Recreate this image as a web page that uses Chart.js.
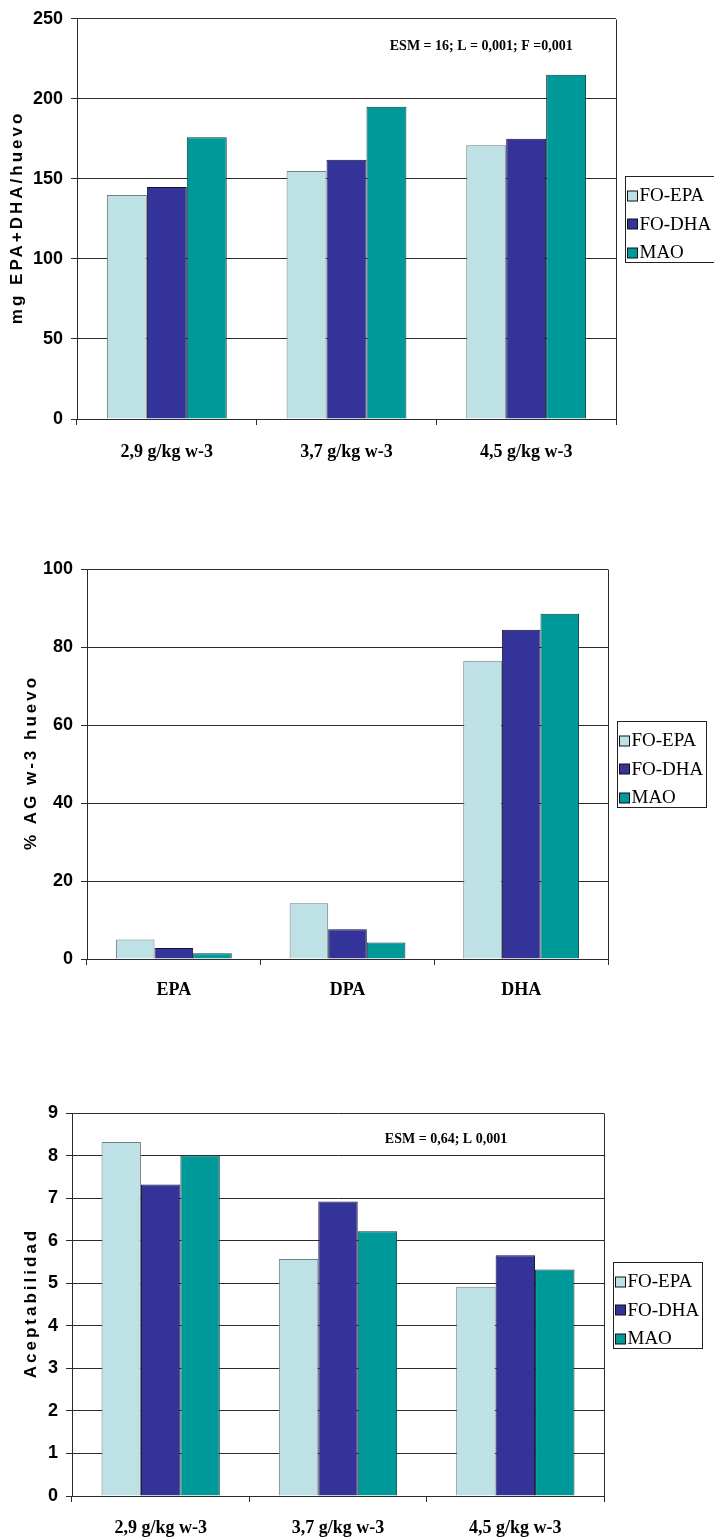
<!DOCTYPE html>
<html>
<head>
<meta charset="utf-8">
<script src="https://cdn.jsdelivr.net/npm/chart.js@4.4.1/dist/chart.umd.min.js"></script>
<style>
  html, body { margin: 0; padding: 0; background: #fff; }
  body { width: 714px; height: 1539px; position: relative; overflow: hidden; }
  .panel { position: absolute; left: 0; width: 714px; }
</style>
</head>
<body>
<div class="panel" style="top:0;height:500px"><canvas id="chartContent"></canvas></div>
<div class="panel" style="top:500px;height:540px"><canvas id="chartProfile"></canvas></div>
<div class="panel" style="top:1040px;height:499px"><canvas id="chartAccept"></canvas></div>

<script>
// Categories and series
const doseLabels = ['2,9 g/kg w-3', '3,7 g/kg w-3', '4,5 g/kg w-3'];
const acidLabels = ['EPA', 'DPA', 'DHA'];
const seriesNames = ['FO-EPA', 'FO-DHA', 'MAO'];

// mg EPA+DHA per egg
const eggFoEpa = [140, 155, 171];
const eggFoDha = [145, 162, 175];
const eggMao   = [176, 195, 215];

// % of each fatty acid within egg w-3
const pctFoEpa = [5.0, 14.3, 76.5];
const pctFoDha = [2.8, 7.6, 84.4];
const pctMao   = [1.5, 4.2, 88.5];

// sensory acceptability score
const accFoEpa = [8.32, 5.57, 4.92];
const accFoDha = [7.32, 6.92, 5.66];
const accMao   = [8.0, 6.22, 5.32];

// value axis ticks
const ticksContent = [0, 50, 100, 150, 200, 250];
const ticksProfile = [0, 20, 40, 60, 80, 100];
const ticksAccept  = [0, 1, 2, 3, 4, 5, 6, 7, 8, 9];

// axis titles and statistics notes
const titleContent = 'mg EPA+DHA/huevo';
const titleProfile = '% AG w-3 huevo';
const titleAccept  = 'Aceptabilidad';
const noteContent  = 'ESM = 16; L = 0,001; F =0,001';
const noteAccept   = 'ESM = 0,64; L 0,001';

// styling
const fillColors   = ['#BDE1E4', '#333399', '#009999'];
const borderColors = ['#6E7F80', '#111133', '#103838'];
const LINE = '#2b2b2b';
const SANS_NARROW = "'Liberation Sans Narrow','Arial Narrow','Liberation Sans',Arial,sans-serif";
const SANS = "'Liberation Sans',Arial,sans-serif";
const SERIF = "'Liberation Serif','Times New Roman',serif";

// frame, y title, legend box and note
const decorPlugin = {
  id: 'decor',
  afterDraw(chart, args, opts) {
    const { ctx, chartArea: a } = chart;
    ctx.save();
    // right side of the plot frame
    ctx.strokeStyle = LINE;
    ctx.lineWidth = 1;
    const rx = Math.round(a.right) + 0.5;
    ctx.beginPath();
    ctx.moveTo(rx, Math.round(a.top) + 0.5);
    ctx.lineTo(rx, Math.round(a.bottom) + 0.5);
    ctx.stroke();

    // rotated value-axis title
    ctx.save();
    ctx.translate(opts.titleX, (a.top + a.bottom) / 2);
    ctx.rotate(-Math.PI / 2);
    ctx.font = 'bold 17px ' + SANS;
    ctx.letterSpacing = '3px';
    ctx.fillStyle = '#000';
    ctx.textAlign = 'center';
    ctx.textBaseline = 'middle';
    ctx.fillText(opts.title, 1.5, 0);
    ctx.restore();

    // legend box
    const lx = Math.round(a.right + 9) + 0.5;
    const lw = 89, lh = 86;
    const ly = Math.round((a.top + a.bottom) / 2 - lh / 2) + 0.5;
    ctx.fillStyle = '#fff';
    ctx.fillRect(lx, ly, lw, lh);
    ctx.strokeStyle = '#222';
    ctx.strokeRect(lx, ly, lw, lh);
    ctx.font = '19px ' + SERIF;
    ctx.textAlign = 'left';
    ctx.textBaseline = 'middle';
    chart.data.datasets.forEach((ds, i) => {
      const cy = ly + 19 + i * 28.5;
      ctx.fillStyle = ds.backgroundColor;
      ctx.fillRect(lx + 2, Math.round(cy - 5), 10, 10);
      ctx.strokeStyle = '#111';
      ctx.strokeRect(lx + 2, Math.round(cy - 5), 10, 10);
      ctx.fillStyle = '#000';
      ctx.fillText(ds.label, lx + 14, cy + 1);
    });

    // statistics note
    if (opts.note) {
      ctx.font = 'bold 14px ' + SERIF;
      ctx.fillStyle = '#000';
      ctx.textAlign = 'center';
      ctx.textBaseline = 'middle';
      const nx = a.left + (a.right - a.left) * opts.noteXFrac;
      const ny = chart.scales.y.getPixelForValue(opts.noteY);
      ctx.fillText(opts.note, nx, ny);
    }
    ctx.restore();
  }
};

function buildChart(id, spec) {
  const el = document.getElementById(id);
  const h = el.parentNode.clientHeight;
  return new Chart(el, {
    type: 'bar',
    data: {
      labels: spec.categories,
      datasets: spec.series.map((vals, i) => ({
        label: seriesNames[i],
        data: vals,
        backgroundColor: fillColors[i],
        borderColor: borderColors[i],
        borderWidth: 1,
        borderSkipped: 'bottom',
        categoryPercentage: 0.667,
        barPercentage: 1
      }))
    },
    options: {
      responsive: true,
      maintainAspectRatio: false,
      animation: false,
      devicePixelRatio: 1,
      layout: { padding: { top: spec.area.top, right: 714 - spec.area.right, left: 0, bottom: 0 } },
      plugins: {
        legend: { display: false },
        tooltip: { enabled: false },
        decor: {
          title: spec.title,
          titleX: spec.titleX,
          note: spec.note,
          noteXFrac: spec.noteXFrac,
          noteY: spec.noteY
        }
      },
      scales: {
        x: {
          grid: { display: true, drawOnChartArea: false, drawTicks: true, tickLength: 6, offset: true, color: LINE, lineWidth: 1 },
          border: { display: true, color: LINE, width: 1 },
          ticks: { font: { family: SERIF, size: 18, weight: 'bold' }, color: '#000', padding: spec.xPad, maxRotation: 0, autoSkip: false },
          afterFit: s => { s.height = h - spec.area.bottom; }
        },
        y: {
          min: 0,
          max: spec.yTicks[spec.yTicks.length - 1],
          afterBuildTicks: s => { s.ticks = spec.yTicks.map(v => ({ value: v })); },
          ticks: { font: { family: SANS_NARROW, size: 18, weight: 'bold' }, color: '#000', padding: 8 },
          grid: { color: LINE, lineWidth: 1, tickLength: 6, drawTicks: true },
          border: { display: true, color: LINE, width: 1 },
          afterFit: s => { s.width = spec.area.left; }
        }
      }
    },
    plugins: [decorPlugin]
  });
}

buildChart('chartContent', {
  categories: doseLabels,
  series: [eggFoEpa, eggFoDha, eggMao],
  yTicks: ticksContent,
  area: { top: 18, left: 77, right: 616, bottom: 419 },
  title: titleContent, titleX: 17,
  note: noteContent, noteXFrac: 0.75, noteY: 233,
  xPad: 17
});

buildChart('chartProfile', {
  categories: acidLabels,
  series: [pctFoEpa, pctFoDha, pctMao],
  yTicks: ticksProfile,
  area: { top: 69, left: 87, right: 608, bottom: 459 },
  title: titleProfile, titleX: 31,
  note: null,
  xPad: 15
});

buildChart('chartAccept', {
  categories: doseLabels,
  series: [accFoEpa, accFoDha, accMao],
  yTicks: ticksAccept,
  area: { top: 73, left: 72, right: 604, bottom: 456 },
  title: titleAccept, titleX: 31,
  note: noteAccept, noteXFrac: 0.703, noteY: 8.37,
  xPad: 16
});
</script>
</body>
</html>
